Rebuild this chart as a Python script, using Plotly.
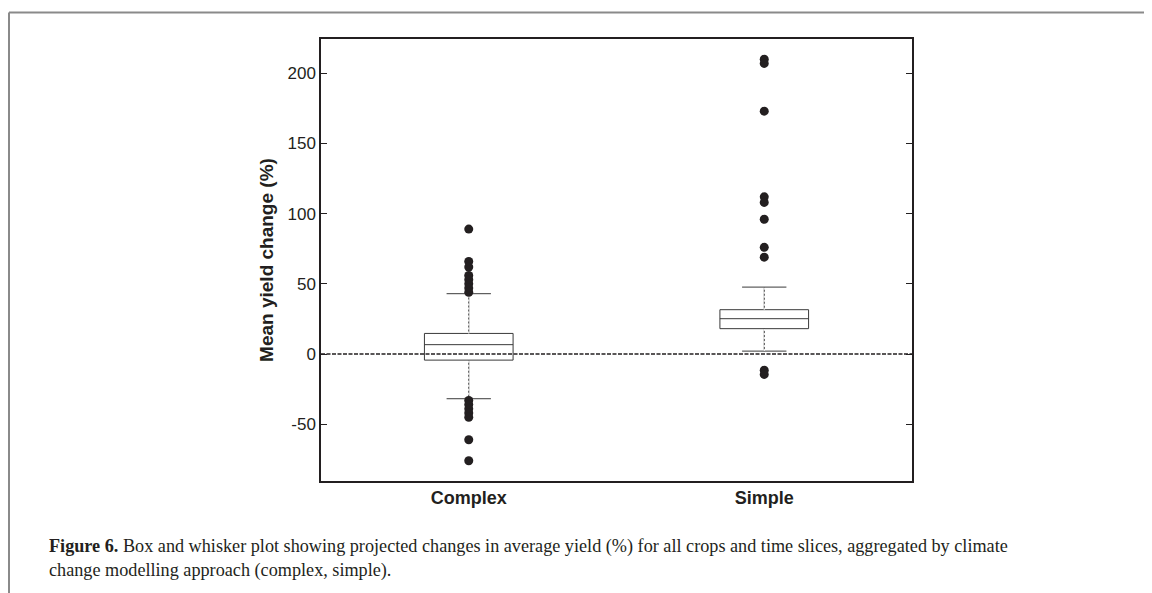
import plotly.graph_objects as go

# ── Data ─────────────────────────────────────────────────────────────────────
categories = ["Complex", "Simple"]

q1 = [-4.3, 18.1]
median = [6.7, 25.2]
q3 = [14.7, 31.6]
lower_whisker = [-31.8, 2.1]
upper_whisker = [43.0, 47.7]

outliers_complex = [89, 66, 62, 56, 53, 50, 47, 44,
                    -33, -36, -39, -42, -45, -61, -76]
outliers_simple = [210, 207, 173, 112, 108, 96, 76, 69, -11.5, -14.5]

y_ticks = [-50, 0, 50, 100, 150, 200]
y_tick_text = ["-50", "0", "50", "100", "150", "200"]

caption = ("<b>Figure 6.</b> Box and whisker plot showing projected changes in average "
           "yield (%) for all crops and time slices, aggregated by climate<br>"
           "change modelling approach (complex, simple).")

INK = "#231f20"
SANS = "Liberation Sans, Arial, sans-serif"
SERIF = "Liberation Serif, Times New Roman, serif"

# the page body adds an 8px margin, so work in page pixels minus 8
OFF = 8
W, H = 1152 - OFF, 593 - OFF
L, R, T, B = 321 - OFF, 912 - OFF, 39 - OFF, 481 - OFF

fig = go.Figure()

fig.add_trace(go.Box(
    x=categories,
    q1=q1,
    median=median,
    q3=q3,
    lowerfence=lower_whisker,
    upperfence=upper_whisker,
    boxpoints=False,
    width=0.30,
    whiskerwidth=0.5,
    fillcolor="white",
    line=dict(color="#3a3a3a", width=1),
    showlegend=False,
    hoverinfo="skip",
))

# dashed look on the whiskers: white dots laid over the solid stems
for i, cat in enumerate(categories):
    for a, b in ((q3[i], upper_whisker[i]), (lower_whisker[i], q1[i])):
        fig.add_trace(go.Scatter(
            x=[cat, cat], y=[a, b], mode="lines",
            line=dict(color="white", width=1.2, dash="2px,2px"),
            showlegend=False, hoverinfo="skip",
        ))

# outliers
for cat, pts in zip(categories, [outliers_complex, outliers_simple]):
    fig.add_trace(go.Scatter(
        x=[cat] * len(pts), y=pts, mode="markers",
        marker=dict(color=INK, size=9),
        showlegend=False,
    ))

# zero reference line
fig.add_hline(y=0, line=dict(color=INK, width=1.5, dash="4px,1.5px"))

# outer frame of the figure panel (grey top and left rules), page pixels
px_x = lambda p: (p - OFF - L) / (R - L)
px_y = lambda p: (B - (p - OFF)) / (B - T)
frame = dict(type="line", xref="paper", yref="paper",
             line=dict(color="#8a8a8a", width=2))
fig.add_shape(**frame, x0=px_x(9), x1=px_x(1152), y0=px_y(12.5), y1=px_y(12.5))
fig.add_shape(**frame, x0=px_x(9), x1=px_x(9), y0=px_y(12.5), y1=px_y(593))

fig.add_annotation(
    text=caption, xref="paper", yref="paper",
    x=px_x(47), y=px_y(534), xanchor="left", yanchor="top",
    align="left", showarrow=False,
    font=dict(family=SERIF, size=18.2, color=INK),
)

fig.update_layout(
    width=W, height=H,
    margin=dict(l=L, r=W - R, t=T, b=H - B),
    plot_bgcolor="white",
    paper_bgcolor="white",
    font=dict(family=SANS, color=INK),
    xaxis=dict(
        type="category",
        range=[-0.5, 1.5],
        showline=True, mirror=True, linecolor=INK, linewidth=1.5,
        ticks="", showgrid=False, zeroline=False,
        tickfont=dict(size=18, family=SANS, color=INK),
        ticklabelstandoff=0,
        tickvals=categories,
        ticktext=[f"<b>{c}</b>" for c in categories],
    ),
    yaxis=dict(
        range=[-90.4, 224.4],
        tickvals=y_ticks,
        ticktext=y_tick_text,
        ticks="inside", ticklen=6, tickwidth=1, tickcolor=INK,
        showline=True, mirror="ticks", linecolor=INK, linewidth=1.5,
        showgrid=False, zeroline=False,
        tickfont=dict(size=17, family=SANS, color=INK),
        title=dict(text="<b>Mean yield change (%)</b>",
                   font=dict(size=19, family=SANS, color=INK), standoff=9),
    ),
)

fig.write_html("out.html")
